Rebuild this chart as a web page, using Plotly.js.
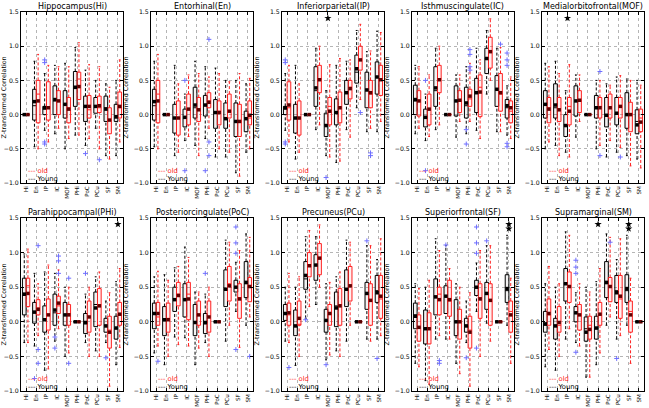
<!DOCTYPE html>
<html><head><meta charset="utf-8">
<script src="https://cdn.plot.ly/plotly-3.0.1.min.js"></script>
<style>html,body{margin:0;padding:0;background:#fff}#chart{width:649px;height:408px}</style>
</head><body><div id="chart"></div>
<script>
const categories = ['Hi','En','IP','IC','MOF','PHi','PoC','PCu','SF','SM'];
const panelTitles = ['Hippocampus(Hi)','Entorhinal(En)','Inferiorparietal(IP)','Isthmuscingulate(IC)','Medialorbitofrontal(MOF)',
  'Parahippocampal(PHi)','Posteriorcingulate(PoC)','Precuneus(PCu)','Superiorfrontal(SF)','Supramarginal(SM)'];
const groupNames = ['Young','old'];
const yTitle = 'Z-transformed Correlation';

// each row: [lowWhisker, q1, median, q3, highWhisker, mean]
const hiYoung = [[0,0,0,0,0,0],[-0.47,-0.08,0.13,0.37,0.78,0.19],[-0.23,0.0,0.08,0.12,0.6,0.1],[-0.28,0.0,0.2,0.42,0.72,0.22],[-0.5,-0.05,0.15,0.35,0.75,0.15],[-0.3,0.12,0.38,0.63,0.98,0.4],[-0.45,-0.1,0.12,0.27,0.65,0.12],[-0.2,0.02,0.13,0.25,0.5,0.12],[-0.6,-0.1,0.1,0.27,0.45,0.08],[-0.6,-0.1,-0.05,0.15,0.5,-0.03]];
const hiOld = [[0,0,0,0,0,0],[-0.5,-0.12,0.3,0.5,0.88,0.2],[-0.4,-0.08,0.1,0.48,0.72,0.1],[-0.2,0.0,0.2,0.35,0.7,0.2],[-0.35,-0.12,0.1,0.25,0.7,0.08],[-0.3,0.22,0.52,0.62,1.05,0.41],[-0.35,-0.05,0.07,0.28,0.73,0.12],[-0.5,0.03,0.1,0.27,0.7,0.13],[-0.65,-0.28,-0.08,0.1,0.4,-0.08],[-0.4,-0.05,0.1,0.33,0.8,0.12]];
const enYoung = [[-0.47,-0.08,0.13,0.37,0.78,0.19],[0,0,0,0,0,0],[-0.6,-0.27,-0.05,0.15,0.72,-0.05],[-0.38,-0.18,-0.05,0.08,0.3,-0.04],[-0.45,-0.05,0.1,0.4,0.78,0.14],[-0.35,-0.02,0.13,0.28,0.7,0.14],[-0.62,-0.2,0.03,0.22,0.68,0.03],[-0.62,-0.2,-0.05,0.17,0.5,-0.06],[-0.85,-0.32,-0.1,0.17,0.5,-0.1],[-0.55,-0.25,-0.05,0.05,0.45,-0.06]];
const enOld = [[-0.5,-0.12,0.3,0.5,0.88,0.2],[0,0,0,0,0,0],[-0.55,-0.3,-0.05,0.2,0.45,-0.05],[-0.32,-0.15,0.08,0.3,0.58,0.08],[-0.6,-0.1,0.08,0.25,0.6,0.07],[-0.2,0.1,0.2,0.32,0.55,0.18],[-0.5,-0.15,0.05,0.2,0.6,0.03],[-0.55,-0.05,0.05,0.3,0.48,0.05],[-0.9,-0.32,-0.1,0.15,0.6,-0.1],[-0.5,-0.15,-0.05,0.2,0.53,-0.01]];
const ipYoung = [[-0.23,0.0,0.08,0.12,0.6,0.1],[-0.65,-0.27,-0.05,0.15,0.72,-0.05],[0,0,0,0,0,0],[-0.22,0.12,0.35,0.7,0.97,0.39],[-0.6,-0.32,-0.15,0.02,0.35,-0.16],[-0.7,-0.15,0.03,0.23,0.72,0.03],[-0.22,0.15,0.33,0.5,0.78,0.32],[0.1,0.46,0.62,0.87,1.23,0.67],[-0.25,0.1,0.37,0.62,0.92,0.36],[-0.25,0.3,0.55,0.77,1.22,0.55]];
const ipOld = [[-0.4,-0.08,0.1,0.48,0.72,0.14],[-0.55,-0.3,-0.05,0.2,0.45,-0.05],[0,0,0,0,0,0],[-0.15,0.32,0.52,0.72,1.0,0.51],[-0.62,-0.15,0.12,0.25,0.73,0.05],[-0.68,-0.12,0.1,0.33,0.82,0.1],[-0.33,0.23,0.4,0.5,0.8,0.38],[0.22,0.65,0.8,1.0,1.32,0.8],[-0.2,0.1,0.3,0.5,0.93,0.32],[-0.1,0.28,0.5,0.72,1.2,0.51]];
const icYoung = [[-0.28,0.0,0.2,0.43,0.72,0.22],[-0.38,-0.18,-0.05,0.08,0.3,-0.04],[-0.22,0.12,0.35,0.7,0.97,0.39],[0,0,0,0,0,0],[-0.33,-0.02,0.2,0.42,0.58,0.2],[-0.28,-0.05,0.13,0.4,0.7,0.17],[-0.23,0.03,0.32,0.53,0.97,0.32],[0.3,0.6,0.82,0.97,1.23,0.82],[-0.25,0.12,0.37,0.57,0.97,0.37],[-0.3,-0.05,0.1,0.22,0.42,0.13]];
const icOld = [[-0.2,-0.02,0.2,0.35,0.7,0.2],[-0.32,-0.15,0.08,0.3,0.58,0.08],[-0.15,0.32,0.52,0.72,1.0,0.51],[0,0,0,0,0,0],[-0.1,0.03,0.2,0.35,0.58,0.21],[-0.1,0.12,0.23,0.37,0.75,0.27],[-0.35,-0.03,0.4,0.58,0.8,0.33],[0.5,0.68,0.92,1.13,1.4,0.92],[-0.25,0.05,0.3,0.6,0.98,0.32],[-0.35,-0.12,0.05,0.2,0.55,0.1]];
const mofYoung = [[-0.5,-0.05,0.15,0.35,0.75,0.15],[-0.45,-0.05,0.1,0.45,0.78,0.14],[-0.55,-0.32,-0.15,0.0,0.35,-0.16],[-0.33,-0.02,0.2,0.42,0.58,0.2],[0,0,0,0,0,0],[-0.5,-0.05,0.1,0.28,0.5,0.1],[-0.62,-0.18,0.0,0.25,0.45,-0.01],[-0.55,-0.15,0.02,0.25,0.55,0.02],[-0.6,-0.2,0.0,0.32,0.52,0.0],[-0.65,-0.28,-0.1,0.07,0.5,-0.15]];
const mofOld = [[-0.4,-0.12,0.1,0.25,0.7,0.08],[-0.6,-0.1,0.08,0.25,0.6,0.07],[-0.62,-0.15,0.12,0.25,0.73,0.05],[-0.1,0.03,0.2,0.35,0.58,0.21],[0,0,0,0,0,0],[-0.45,-0.05,0.12,0.25,0.5,0.1],[-0.38,-0.05,0.1,0.3,0.43,0.1],[-0.48,-0.05,0.12,0.25,0.57,0.12],[-0.75,-0.25,0.0,0.18,0.5,0.0],[-0.78,-0.25,-0.05,0.08,0.43,-0.11]];
const phiYoung = [[-0.3,0.1,0.38,0.63,0.98,0.4],[-0.35,-0.02,0.13,0.28,0.7,0.14],[-0.7,-0.15,0.03,0.23,0.72,0.03],[-0.28,-0.05,0.13,0.4,0.7,0.17],[-0.5,-0.05,0.1,0.28,0.5,0.1],[0,0,0,0,0,0],[-0.3,-0.17,-0.03,0.12,0.4,-0.01],[-0.42,-0.07,0.25,0.43,0.65,0.2],[-0.3,-0.15,-0.05,0.05,0.3,-0.06],[-0.62,-0.25,-0.1,0.08,0.58,-0.09]];
const phiOld = [[-0.3,0.22,0.52,0.63,1.05,0.41],[-0.2,0.1,0.2,0.32,0.55,0.18],[-0.68,-0.12,0.1,0.33,0.82,0.1],[-0.1,0.12,0.23,0.37,0.75,0.27],[-0.45,-0.05,0.12,0.25,0.5,0.1],[0,0,0,0,0,0],[-0.5,-0.15,0.07,0.3,0.5,0.07],[-0.5,-0.05,0.25,0.48,0.72,0.23],[-0.93,-0.38,-0.12,0.08,0.42,-0.15],[-0.37,-0.05,0.1,0.28,0.77,0.11]];
const pocYoung = [[-0.45,-0.1,0.12,0.27,0.65,0.12],[-0.62,-0.2,0.03,0.22,0.68,0.03],[-0.22,0.15,0.33,0.5,0.78,0.32],[-0.23,0.07,0.32,0.55,1.08,0.32],[-0.62,-0.2,0.0,0.25,0.43,-0.01],[-0.3,-0.17,-0.03,0.12,0.4,-0.01],[0,0,0,0,0,0],[-0.28,0.22,0.47,0.75,1.18,0.47],[0.15,0.43,0.5,0.6,0.86,0.5],[-0.05,0.35,0.55,0.87,1.27,0.57]];
const pocOld = [[-0.35,-0.05,0.07,0.28,0.73,0.12],[-0.5,-0.15,0.05,0.27,0.6,0.03],[-0.33,0.23,0.4,0.57,0.8,0.38],[-0.35,0.03,0.4,0.57,0.93,0.33],[-0.38,-0.05,0.1,0.3,0.43,0.1],[-0.5,-0.15,0.07,0.3,0.5,0.07],[0,0,0,0,0,0],[-0.05,0.3,0.55,0.8,1.15,0.52],[-0.37,0.05,0.35,0.55,1.03,0.33],[0.07,0.29,0.52,0.64,1.22,0.51]];
const pcuYoung = [[-0.28,0.02,0.13,0.25,0.5,0.12],[-0.63,-0.2,-0.05,0.17,0.5,-0.06],[0.05,0.47,0.62,0.87,1.23,0.67],[0.25,0.6,0.82,0.97,1.23,0.82],[-0.55,-0.15,0.02,0.18,0.55,0.02],[-0.42,-0.07,0.23,0.43,0.65,0.2],[-0.28,0.22,0.47,0.75,1.18,0.47],[0,0,0,0,0,0],[-0.25,0.18,0.4,0.57,1.1,0.41],[-0.25,0.28,0.45,0.67,0.9,0.42]];
const pcuOld = [[-0.3,-0.05,0.1,0.27,0.7,0.13],[-0.5,-0.05,-0.05,0.3,0.65,0.05],[0.22,0.65,0.8,1.0,1.32,0.81],[0.5,0.68,0.92,1.13,1.4,0.92],[-0.48,-0.05,0.12,0.25,0.57,0.12],[-0.5,-0.05,0.25,0.48,0.72,0.23],[-0.05,0.3,0.52,0.8,1.15,0.52],[0,0,0,0,0,0],[-0.28,-0.05,0.3,0.55,1.1,0.31],[-0.2,0.05,0.33,0.67,1.2,0.37]];
const sfYoung = [[-0.6,-0.1,0.1,0.27,0.55,0.08],[-0.85,-0.32,-0.1,0.17,0.5,-0.1],[-0.25,0.1,0.37,0.62,1.2,0.36],[-0.25,0.12,0.37,0.52,1.1,0.37],[-0.6,-0.2,0.0,0.32,0.55,0.0],[-0.3,-0.15,-0.05,0.05,0.3,-0.06],[0.15,0.38,0.5,0.6,0.85,0.5],[-0.02,0.18,0.4,0.57,1.1,0.41],[0,0,0,0,0,0],[-0.05,0.28,0.45,0.68,1.25,0.48]];
const sfOld = [[-0.65,-0.28,-0.08,0.1,0.48,-0.08],[-0.9,-0.32,-0.1,0.13,0.6,-0.1],[-0.2,0.1,0.4,0.5,1.03,0.32],[-0.25,0.08,0.3,0.6,0.77,0.32],[-0.75,-0.25,0.0,0.18,0.5,0.0],[-0.93,-0.38,-0.12,0.08,0.42,-0.15],[-0.5,0.05,0.35,0.55,1.03,0.33],[-0.28,-0.05,0.3,0.55,1.1,0.31],[0,0,0,0,0,0],[-0.6,-0.15,0.15,0.3,0.63,0.1]];
const smYoung = [[-0.65,-0.15,-0.05,0.15,0.55,-0.03],[-0.7,-0.25,-0.05,0.05,0.5,-0.06],[-0.25,0.3,0.55,0.77,1.3,0.55],[-0.3,0.0,0.12,0.22,0.42,0.13],[-0.8,-0.28,-0.1,0.07,0.5,-0.15],[-0.62,-0.25,-0.1,0.08,0.58,-0.09],[-0.05,0.35,0.55,0.87,1.27,0.57],[-0.25,0.28,0.45,0.67,0.9,0.42],[-0.05,0.28,0.45,0.68,1.25,0.48],[0,0,0,0,0,0]];
const smOld = [[-0.4,-0.05,0.1,0.33,0.8,0.12],[-0.5,-0.15,-0.05,0.22,0.55,-0.01],[-0.1,0.28,0.5,0.72,1.25,0.51],[-0.35,-0.12,0.1,0.25,0.55,0.1],[-0.8,-0.25,-0.05,0.08,0.43,-0.11],[-0.45,-0.05,0.1,0.28,0.77,0.11],[0.07,0.29,0.52,0.64,1.22,0.51],[-0.2,0.05,0.33,0.67,1.2,0.37],[-0.6,-0.15,0.15,0.3,0.63,0.1],[0,0,0,0,0,0]];

// outliers: [categoryIndex, group (0 Young, 1 old), value]
const hiOutliers = [[2,0,0.8],[2,0,0.76],[2,0,-0.4],[2,0,-0.43],[6,0,-0.57],[7,1,-0.66]];
const enOutliers = [[3,0,0.5],[3,0,-0.82],[5,1,1.1],[5,1,-0.4],[5,1,-0.6],[5,0,-0.82]];
const ipOutliers = [[0,0,0.8],[0,0,0.76],[0,0,-0.4],[0,0,-0.43],[4,0,-0.92],[7,1,0.03],[8,1,-0.56],[8,1,-0.6]];
const icOutliers = [[1,0,0.5],[1,0,-0.82],[5,1,0.95],[5,1,0.88],[5,1,0.7],[5,1,0.65],[5,0,-0.22],[5,0,-0.43],[8,1,1.03],[9,0,0.9],[9,0,0.8],[9,0,0.72],[9,0,-0.42],[9,0,-0.47]];
const mofOutliers = [[5,1,0.63],[5,1,-0.6],[7,1,-0.62]];
const phiOutliers = [[1,1,1.1],[1,1,-0.4],[1,1,-0.6],[1,0,-0.82],[3,1,0.95],[3,1,0.88],[3,1,0.7],[3,0,-0.22],[3,0,-0.38],[4,1,0.63],[4,1,-0.6],[6,0,0.7],[8,0,-0.52]];
const pocOutliers = [[0,1,-0.57],[5,0,0.7],[8,0,1.37],[8,0,1.14],[8,0,0.99],[8,0,-0.4],[9,1,-0.5]];
const pcuOutliers = [[0,1,-0.66],[2,0,0.03],[4,0,-0.62],[8,0,1.17],[9,0,-0.53]];
const sfOutliers = [[2,1,-0.56],[2,1,-0.6],[3,0,1.11],[5,0,-0.52],[6,0,1.37],[6,0,1.14],[6,0,0.99],[6,0,-0.38],[7,0,1.17]];
const smOutliers = [[3,0,0.89],[3,0,0.79],[3,0,0.7],[3,0,-0.44],[6,1,1.15],[7,0,-0.53]];

// significance marks: [panelIndex, categoryIndex, number of stars]
const starMarks = [[2,4,1],[4,2,1],[5,9,1],[8,9,2],[9,5,1],[9,8,2]];

const youngStats = [hiYoung,enYoung,ipYoung,icYoung,mofYoung,phiYoung,pocYoung,pcuYoung,sfYoung,smYoung];
const oldStats = [hiOld,enOld,ipOld,icOld,mofOld,phiOld,pocOld,pcuOld,sfOld,smOld];
const outlierSets = [hiOutliers,enOutliers,ipOutliers,icOutliers,mofOutliers,phiOutliers,pocOutliers,pcuOutliers,sfOutliers,smOutliers];

// ---------- styling / layout constants ----------
const FW = 649, FH = 408;
const colLeft = [21, 151, 282, 412, 542];
const plotW = 102;
const rowTop = [12, 218];
const plotH = [171, 173];
const FONT = 'DejaVu Sans, Liberation Sans, sans-serif';
const groupColor = ['#000000', '#ff2020'];
const groupFill = ['rgba(0,0,0,0.05)', 'rgba(255,0,0,0.06)'];
const meanColor = ['#000000', '#5a0000'];
const offset = 0.18, boxW = 0.36, capHalf = 0.09;
const starLevel = 1.41, starStep = 0.065;

const traces = [];
const annotations = [];
const layout = {
  width: FW, height: FH, margin: {l:0, r:0, t:0, b:0},
  paper_bgcolor: '#fff', plot_bgcolor: '#fff', showlegend: false,
  font: {family: FONT, size: 7, color: '#000'}
};

for (let p = 0; p < 10; p++) {
  const s = p === 0 ? '' : String(p + 1);
  const xa = 'x' + s, ya = 'y' + s;
  const c = p % 5, r = Math.floor(p / 5);
  const x0 = colLeft[c] / FW, x1 = (colLeft[c] + plotW) / FW;
  const y1 = 1 - rowTop[r] / FH, y0 = 1 - (rowTop[r] + plotH[r]) / FH;

  [youngStats[p], oldStats[p]].forEach((stats, g) => {
    const sign = g === 0 ? -1 : 1;
    const xs = stats.map((row, i) => i + sign * offset);
    traces.push({
      type: 'box', xaxis: xa, yaxis: ya, name: groupNames[g],
      x: xs, q1: stats.map(v => v[1]), median: stats.map(v => v[2]), q3: stats.map(v => v[3]),
      lowerfence: stats.map(v => v[1]), upperfence: stats.map(v => v[3]),
      width: boxW, whiskerwidth: 0, boxpoints: false,
      line: {color: groupColor[g], width: 1}, fillcolor: groupFill[g], hoverinfo: 'skip'
    });
    const wx = [], wy = [], cx = [], cy = [];
    stats.forEach((v, i) => {
      wx.push(xs[i], xs[i], null, xs[i], xs[i], null);
      wy.push(v[0], v[1], null, v[3], v[4], null);
      cx.push(xs[i] - capHalf, xs[i] + capHalf, null, xs[i] - capHalf, xs[i] + capHalf, null);
      cy.push(v[0], v[0], null, v[4], v[4], null);
    });
    traces.push({type: 'scatter', mode: 'lines', xaxis: xa, yaxis: ya, x: wx, y: wy,
      line: {color: groupColor[g], width: 1, dash: '3px,2px'}, hoverinfo: 'skip', connectgaps: false});
    traces.push({type: 'scatter', mode: 'lines', xaxis: xa, yaxis: ya, x: cx, y: cy,
      line: {color: groupColor[g], width: 1}, hoverinfo: 'skip', connectgaps: false});
    traces.push({type: 'scatter', mode: 'markers', xaxis: xa, yaxis: ya, x: xs, y: stats.map(v => v[5]),
      marker: {symbol: 'square', size: 3.5, color: meanColor[g]}, hoverinfo: 'skip'});
  });

  const outl = outlierSets[p];
  traces.push({type: 'scatter', mode: 'markers', xaxis: xa, yaxis: ya,
    x: outl.map(o => o[0] + (o[1] === 0 ? -offset : offset)), y: outl.map(o => o[2]),
    marker: {symbol: 'cross-thin', size: 3.5, line: {color: '#6f6fff', width: 1}}, hoverinfo: 'skip'});

  const sx = [], sy = [];
  starMarks.filter(m => m[0] === p).forEach(m => {
    for (let k = 0; k < m[2]; k++) { sx.push(m[1]); sy.push(starLevel - k * starStep); }
  });
  if (sx.length) traces.push({type: 'scatter', mode: 'markers', xaxis: xa, yaxis: ya, x: sx, y: sy,
    marker: {symbol: 'star', size: 5.5, color: '#000'}, hoverinfo: 'skip'});

  layout['xaxis' + s] = {
    domain: [x0, x1], anchor: ya, range: [-0.5, 9.5],
    tickmode: 'array', tickvals: categories.map((_, i) => i), ticktext: categories,
    tickangle: -90, tickfont: {size: 5.6, family: FONT},
    showgrid: true, gridcolor: '#b5b5b5', griddash: 'dot', gridwidth: 1, zeroline: false,
    ticks: 'inside', ticklen: 3, tickcolor: '#000', showline: true, mirror: 'ticks',
    linecolor: '#000', linewidth: 1, fixedrange: true
  };
  layout['yaxis' + s] = {
    domain: [y0, y1], anchor: xa, range: [-1, 1.5],
    tickmode: 'array', tickvals: [-1, -0.5, 0, 0.5, 1, 1.5], tickformat: '.1f',
    tickfont: {size: 6.2, family: FONT},
    title: {text: yTitle, font: {size: 6.3, family: FONT}, standoff: 4},
    showgrid: true, gridcolor: '#b5b5b5', griddash: 'dot', gridwidth: 1, zeroline: false,
    ticks: 'inside', ticklen: 3, tickcolor: '#000', showline: true, mirror: 'ticks',
    linecolor: '#000', linewidth: 1, fixedrange: true
  };

  annotations.push({xref: 'paper', yref: 'paper', x: (x0 + x1) / 2, y: y1, yshift: 0,
    xanchor: 'center', yanchor: 'bottom', showarrow: false, borderpad: 0,
    text: panelTitles[p], font: {size: 8, family: FONT, color: '#000'}});
  annotations.push({xref: xa + ' domain', yref: ya + ' domain', x: 0.06, y: 0.068,
    xanchor: 'left', yanchor: 'middle', showarrow: false, borderpad: 0,
    text: '--- ' + groupNames[1], font: {size: 6.8, family: FONT, color: groupColor[1]}});
  annotations.push({xref: xa + ' domain', yref: ya + ' domain', x: 0.06, y: 0.024,
    xanchor: 'left', yanchor: 'middle', showarrow: false, borderpad: 0,
    text: '--- ' + groupNames[0], font: {size: 6.8, family: FONT, color: groupColor[0]}});
}
layout.annotations = annotations;

Plotly.newPlot('chart', traces, layout, {staticPlot: true, displayModeBar: false});
</script></body></html>
